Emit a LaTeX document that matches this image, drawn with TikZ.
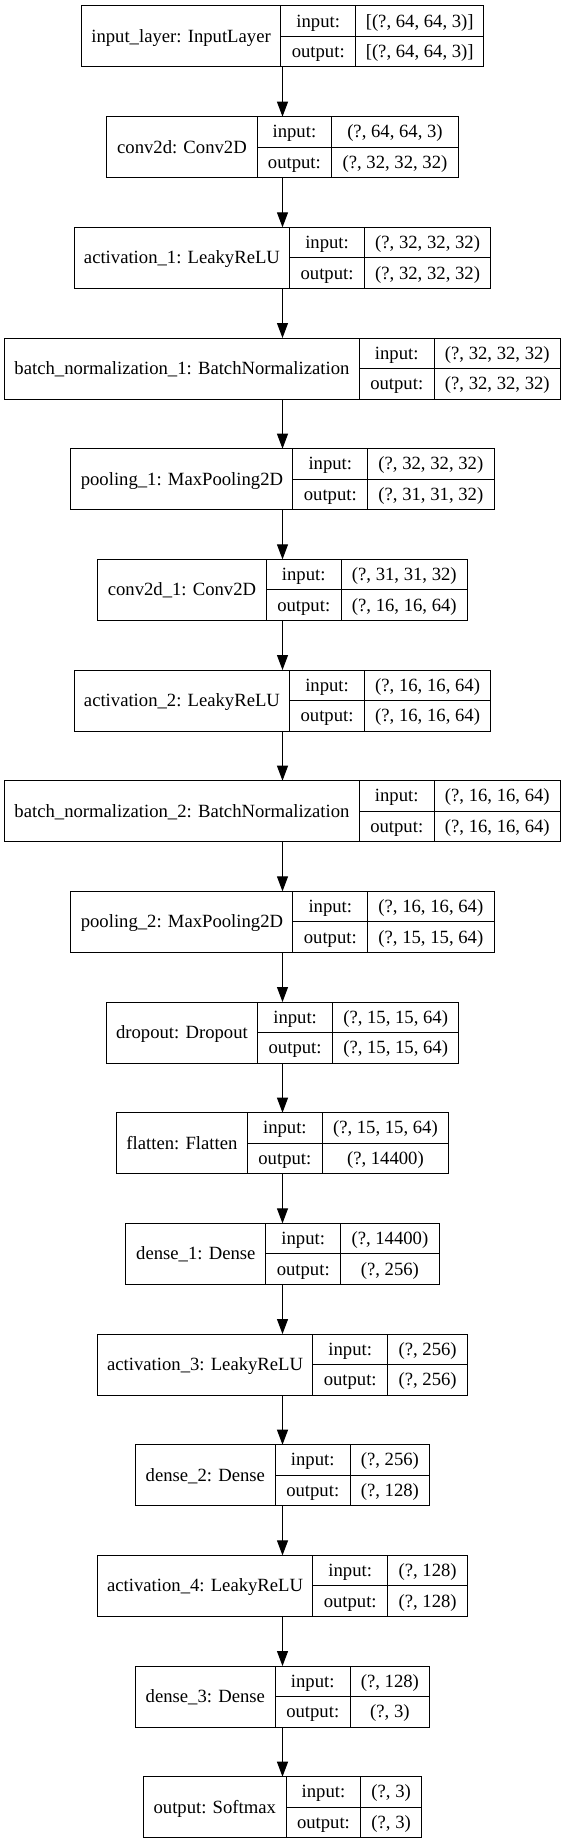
\documentclass[tikz,border=0pt]{standalone}
\usepackage{fontspec}
\setmainfont{Liberation Serif}
\usepackage{tikz}
\usetikzlibrary{arrows.meta,positioning}

\begin{document}
\begin{tikzpicture}[x=1pt,y=-1pt,>={Triangle[length=15pt,width=11pt]},
    font=\fontsize{18.67}{22}\selectfont,
    layerbox/.style={draw,line width=1pt,minimum height=61pt,inner sep=0pt,outer sep=0pt},
    cell/.style={layerbox,anchor=north west,text height=12.5pt,text depth=0.5pt},
    keycell/.style={cell,minimum width=74.7pt,minimum height=30.5pt},
    valcell/.style={cell,minimum height=30.5pt},
    flow/.style={->,line width=1pt}]
                \useasboundingbox (0,0) rectangle (567,1844);
                \node[layerbox,minimum width=402.6pt] (inlayer) at (282.5,36.5) {};
                \node[cell,minimum width=199.7pt] (inlayer-n) at (inlayer.north west) {input\_layer: InputLayer};
                \node[keycell] (inlayer-i) at (inlayer-n.north east) {input:};
                \node[keycell] (inlayer-o) at (inlayer-i.south west) {output:};
                \node[valcell,minimum width=128.2pt] (inlayer-iv) at (inlayer-i.north east) {[(?, 64, 64, 3)]};
                \node[valcell,minimum width=128.2pt] (inlayer-ov) at (inlayer-o.north east) {[(?, 64, 64, 3)]};
                \node[layerbox,minimum width=351.3pt,below=49.67pt of inlayer] (conv) {};
                \node[cell,minimum width=150.2pt] (conv-n) at (conv.north west) {conv2d: Conv2D};
                \node[keycell] (conv-i) at (conv-n.north east) {input:};
                \node[keycell] (conv-o) at (conv-i.south west) {output:};
                \node[valcell,minimum width=126.4pt] (conv-iv) at (conv-i.north east) {(?, 64, 64, 3)};
                \node[valcell,minimum width=126.4pt] (conv-ov) at (conv-o.north east) {(?, 32, 32, 32)};
                \node[layerbox,minimum width=416.6pt,below=49.67pt of conv] (act1) {};
                \node[cell,minimum width=215.5pt] (act1-n) at (act1.north west) {activation\_1: LeakyReLU};
                \node[keycell] (act1-i) at (act1-n.north east) {input:};
                \node[keycell] (act1-o) at (act1-i.south west) {output:};
                \node[valcell,minimum width=126.4pt] (act1-iv) at (act1-i.north east) {(?, 32, 32, 32)};
                \node[valcell,minimum width=126.4pt] (act1-ov) at (act1-o.north east) {(?, 32, 32, 32)};
                \node[layerbox,minimum width=556pt,below=49.67pt of act1] (bn1) {};
                \node[cell,minimum width=354.9pt] (bn1-n) at (bn1.north west) {batch\_normalization\_1: BatchNormalization};
                \node[keycell] (bn1-i) at (bn1-n.north east) {input:};
                \node[keycell] (bn1-o) at (bn1-i.south west) {output:};
                \node[valcell,minimum width=126.4pt] (bn1-iv) at (bn1-i.north east) {(?, 32, 32, 32)};
                \node[valcell,minimum width=126.4pt] (bn1-ov) at (bn1-o.north east) {(?, 32, 32, 32)};
                \node[layerbox,minimum width=423.1pt,below=49.67pt of bn1] (pool1) {};
                \node[cell,minimum width=222pt] (pool1-n) at (pool1.north west) {pooling\_1: MaxPooling2D};
                \node[keycell] (pool1-i) at (pool1-n.north east) {input:};
                \node[keycell] (pool1-o) at (pool1-i.south west) {output:};
                \node[valcell,minimum width=126.4pt] (pool1-iv) at (pool1-i.north east) {(?, 32, 32, 32)};
                \node[valcell,minimum width=126.4pt] (pool1-ov) at (pool1-o.north east) {(?, 31, 31, 32)};
                \node[layerbox,minimum width=370pt,below=49.67pt of pool1] (conv1) {};
                \node[cell,minimum width=168.9pt] (conv1-n) at (conv1.north west) {conv2d\_1: Conv2D};
                \node[keycell] (conv1-i) at (conv1-n.north east) {input:};
                \node[keycell] (conv1-o) at (conv1-i.south west) {output:};
                \node[valcell,minimum width=126.4pt] (conv1-iv) at (conv1-i.north east) {(?, 31, 31, 32)};
                \node[valcell,minimum width=126.4pt] (conv1-ov) at (conv1-o.north east) {(?, 16, 16, 64)};
                \node[layerbox,minimum width=416.6pt,below=49.67pt of conv1] (act2) {};
                \node[cell,minimum width=215.5pt] (act2-n) at (act2.north west) {activation\_2: LeakyReLU};
                \node[keycell] (act2-i) at (act2-n.north east) {input:};
                \node[keycell] (act2-o) at (act2-i.south west) {output:};
                \node[valcell,minimum width=126.4pt] (act2-iv) at (act2-i.north east) {(?, 16, 16, 64)};
                \node[valcell,minimum width=126.4pt] (act2-ov) at (act2-o.north east) {(?, 16, 16, 64)};
                \node[layerbox,minimum width=556pt,below=49.67pt of act2] (bn2) {};
                \node[cell,minimum width=354.9pt] (bn2-n) at (bn2.north west) {batch\_normalization\_2: BatchNormalization};
                \node[keycell] (bn2-i) at (bn2-n.north east) {input:};
                \node[keycell] (bn2-o) at (bn2-i.south west) {output:};
                \node[valcell,minimum width=126.4pt] (bn2-iv) at (bn2-i.north east) {(?, 16, 16, 64)};
                \node[valcell,minimum width=126.4pt] (bn2-ov) at (bn2-o.north east) {(?, 16, 16, 64)};
                \node[layerbox,minimum width=423.1pt,below=49.67pt of bn2] (pool2) {};
                \node[cell,minimum width=222pt] (pool2-n) at (pool2.north west) {pooling\_2: MaxPooling2D};
                \node[keycell] (pool2-i) at (pool2-n.north east) {input:};
                \node[keycell] (pool2-o) at (pool2-i.south west) {output:};
                \node[valcell,minimum width=126.4pt] (pool2-iv) at (pool2-i.north east) {(?, 16, 16, 64)};
                \node[valcell,minimum width=126.4pt] (pool2-ov) at (pool2-o.north east) {(?, 15, 15, 64)};
                \node[layerbox,minimum width=352.7pt,below=49.67pt of pool2] (drop) {};
                \node[cell,minimum width=151.6pt] (drop-n) at (drop.north west) {dropout: Dropout};
                \node[keycell] (drop-i) at (drop-n.north east) {input:};
                \node[keycell] (drop-o) at (drop-i.south west) {output:};
                \node[valcell,minimum width=126.4pt] (drop-iv) at (drop-i.north east) {(?, 15, 15, 64)};
                \node[valcell,minimum width=126.4pt] (drop-ov) at (drop-o.north east) {(?, 15, 15, 64)};
                \node[layerbox,minimum width=332.2pt,below=49.67pt of drop] (flat) {};
                \node[cell,minimum width=131.1pt] (flat-n) at (flat.north west) {flatten: Flatten};
                \node[keycell] (flat-i) at (flat-n.north east) {input:};
                \node[keycell] (flat-o) at (flat-i.south west) {output:};
                \node[valcell,minimum width=126.4pt] (flat-iv) at (flat-i.north east) {(?, 15, 15, 64)};
                \node[valcell,minimum width=126.4pt] (flat-ov) at (flat-o.north east) {(?, 14400)};
                \node[layerbox,minimum width=313.4pt,below=49.67pt of flat] (dense1) {};
                \node[cell,minimum width=140.1pt] (dense1-n) at (dense1.north west) {dense\_1: Dense};
                \node[keycell] (dense1-i) at (dense1-n.north east) {input:};
                \node[keycell] (dense1-o) at (dense1-i.south west) {output:};
                \node[valcell,minimum width=98.6pt] (dense1-iv) at (dense1-i.north east) {(?, 14400)};
                \node[valcell,minimum width=98.6pt] (dense1-ov) at (dense1-o.north east) {(?, 256)};
                \node[layerbox,minimum width=370.3pt,below=49.67pt of dense1] (act3) {};
                \node[cell,minimum width=215.5pt] (act3-n) at (act3.north west) {activation\_3: LeakyReLU};
                \node[keycell] (act3-i) at (act3-n.north east) {input:};
                \node[keycell] (act3-o) at (act3-i.south west) {output:};
                \node[valcell,minimum width=80.1pt] (act3-iv) at (act3-i.north east) {(?, 256)};
                \node[valcell,minimum width=80.1pt] (act3-ov) at (act3-o.north east) {(?, 256)};
                \node[layerbox,minimum width=294.4pt,below=49.67pt of act3] (dense2) {};
                \node[cell,minimum width=140.1pt] (dense2-n) at (dense2.north west) {dense\_2: Dense};
                \node[keycell] (dense2-i) at (dense2-n.north east) {input:};
                \node[keycell] (dense2-o) at (dense2-i.south west) {output:};
                \node[valcell,minimum width=79.6pt] (dense2-iv) at (dense2-i.north east) {(?, 256)};
                \node[valcell,minimum width=79.6pt] (dense2-ov) at (dense2-o.north east) {(?, 128)};
                \node[layerbox,minimum width=370.3pt,below=49.67pt of dense2] (act4) {};
                \node[cell,minimum width=215.5pt] (act4-n) at (act4.north west) {activation\_4: LeakyReLU};
                \node[keycell] (act4-i) at (act4-n.north east) {input:};
                \node[keycell] (act4-o) at (act4-i.south west) {output:};
                \node[valcell,minimum width=80.1pt] (act4-iv) at (act4-i.north east) {(?, 128)};
                \node[valcell,minimum width=80.1pt] (act4-ov) at (act4-o.north east) {(?, 128)};
                \node[layerbox,minimum width=294.4pt,below=49.67pt of act4] (dense3) {};
                \node[cell,minimum width=140.1pt] (dense3-n) at (dense3.north west) {dense\_3: Dense};
                \node[keycell] (dense3-i) at (dense3-n.north east) {input:};
                \node[keycell] (dense3-o) at (dense3-i.south west) {output:};
                \node[valcell,minimum width=79.6pt] (dense3-iv) at (dense3-i.north east) {(?, 128)};
                \node[valcell,minimum width=79.6pt] (dense3-ov) at (dense3-o.north east) {(?, 3)};
                \node[layerbox,minimum width=278pt,below=49.67pt of dense3] (out) {};
                \node[cell,minimum width=142.6pt] (out-n) at (out.north west) {output: Softmax};
                \node[keycell] (out-i) at (out-n.north east) {input:};
                \node[keycell] (out-o) at (out-i.south west) {output:};
                \node[valcell,minimum width=60.7pt] (out-iv) at (out-i.north east) {(?, 3)};
                \node[valcell,minimum width=60.7pt] (out-ov) at (out-o.north east) {(?, 3)};
                \draw [flow] (inlayer) -- (conv);
                \draw [flow] (conv) -- (act1);
                \draw [flow] (act1) -- (bn1);
                \draw [flow] (bn1) -- (pool1);
                \draw [flow] (pool1) -- (conv1);
                \draw [flow] (conv1) -- (act2);
                \draw [flow] (act2) -- (bn2);
                \draw [flow] (bn2) -- (pool2);
                \draw [flow] (pool2) -- (drop);
                \draw [flow] (drop) -- (flat);
                \draw [flow] (flat) -- (dense1);
                \draw [flow] (dense1) -- (act3);
                \draw [flow] (act3) -- (dense2);
                \draw [flow] (dense2) -- (act4);
                \draw [flow] (act4) -- (dense3);
                \draw [flow] (dense3) -- (out);
\end{tikzpicture}
\end{document}
